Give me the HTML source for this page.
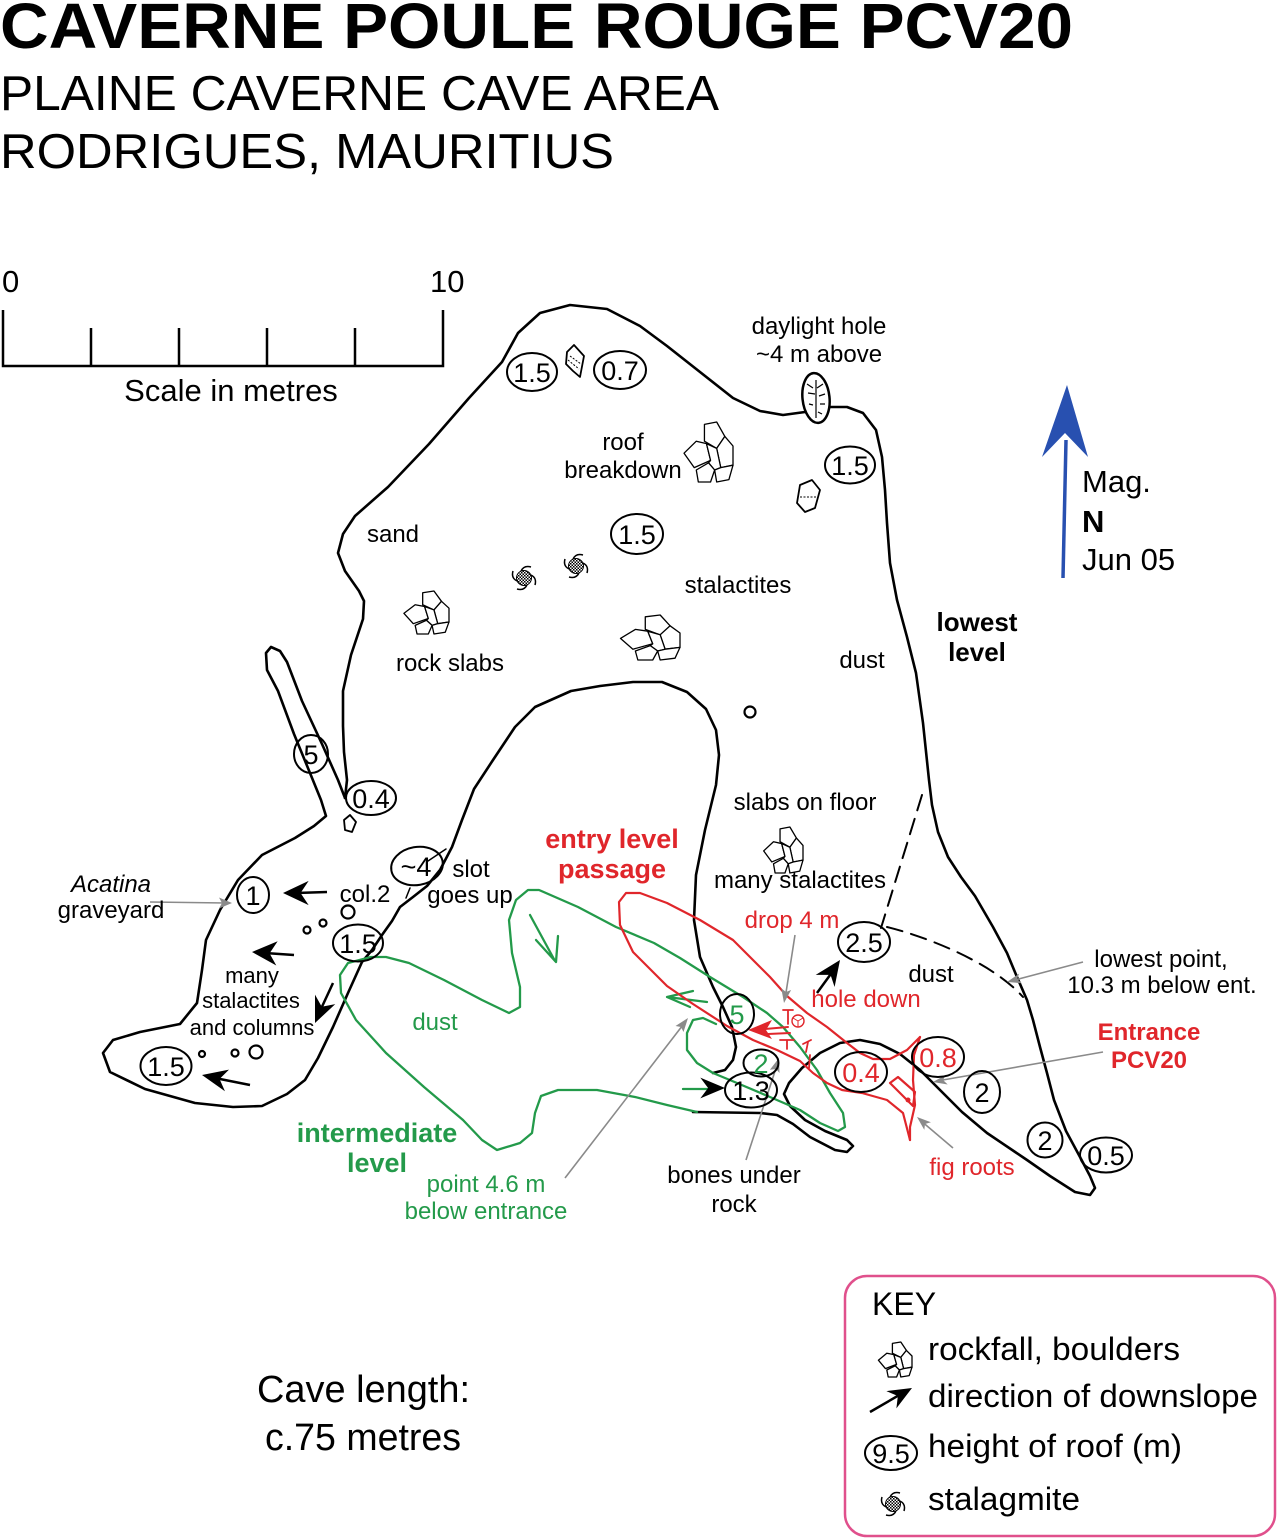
<!DOCTYPE html>
<html><head><meta charset="utf-8"><style>
html,body{margin:0;padding:0;background:#fff}
svg{display:block}
text{font-family:"Liberation Sans",Arial,sans-serif}
</style></head><body>
<svg width="1278" height="1539" viewBox="0 0 1278 1539" xmlns="http://www.w3.org/2000/svg">
<defs>
<pattern id="chk" width="3" height="3" patternUnits="userSpaceOnUse"><rect width="3" height="3" fill="#fff"/><rect width="1.5" height="1.5" fill="#000"/><rect x="1.5" y="1.5" width="1.5" height="1.5" fill="#000"/></pattern>
<g id="stal"><circle r="7.5" fill="url(#chk)" stroke="#000" stroke-width="1"/><path d="M7,-3 Q13,0 11,7 M3,7 Q0,13 -7,11 M-7,3 Q-13,0 -11,-7 M-3,-7 Q0,-13 7,-11" fill="none" stroke="#000" stroke-width="1.5"/></g>
<g id="rf" fill="#fff" stroke="#000" stroke-width="1.3" stroke-linejoin="round">
<polygon vector-effect="non-scaling-stroke" points="22,2 34,0 42,12 34,22 22,16"/>
<polygon vector-effect="non-scaling-stroke" points="34,22 42,12 50,20 50,36 38,38"/>
<polygon vector-effect="non-scaling-stroke" points="2,26 14,16 24,18 28,32 12,38"/>
<polygon vector-effect="non-scaling-stroke" points="24,18 34,22 38,38 32,40 26,34 28,32"/>
<polygon vector-effect="non-scaling-stroke" points="14,40 26,34 32,40 28,50 16,50"/>
<polygon vector-effect="non-scaling-stroke" points="32,40 38,38 50,36 46,48 34,50"/>
</g>
</defs>
<rect width="1278" height="1539" fill="#fff"/>

<!-- Titles -->
<text x="0" y="48" font-size="64" font-weight="bold" textLength="1073" lengthAdjust="spacingAndGlyphs">CAVERNE POULE ROUGE  PCV20</text>
<text x="0" y="110" font-size="49" textLength="719" lengthAdjust="spacingAndGlyphs">PLAINE CAVERNE CAVE AREA</text>
<text x="0" y="168" font-size="49" textLength="614" lengthAdjust="spacingAndGlyphs">RODRIGUES,  MAURITIUS</text>

<!-- Scale bar -->
<text x="2" y="292" font-size="31">0</text>
<text x="430" y="292" font-size="31">10</text>
<path d="M3,310 V366 H443 V310 M91,328 V366 M179,328 V366 M267,328 V366 M355,328 V366" fill="none" stroke="#000" stroke-width="2.5"/>
<text x="231" y="401" font-size="31" text-anchor="middle">Scale in metres</text>

<!-- North arrow -->
<path d="M1063,578 L1066,440" stroke="#2850b0" stroke-width="3.5" fill="none"/>
<path d="M1067,385 L1088,457 L1065,433 L1042,457 Z" fill="#2850b0"/>
<text x="1082" y="492" font-size="31">Mag.</text>
<text x="1082" y="532" font-size="31" font-weight="bold">N</text>
<text x="1082" y="570" font-size="31">Jun 05</text>

<!-- Cave outlines (black) -->
<g fill="none" stroke="#000" stroke-width="2.6" stroke-linejoin="round" stroke-linecap="round">
<path d="M345,798 L347,780 L344,752 L343,726 L343,691 L351,655 L363,619 L364,601 L359,591 L345,571 L338,553 L343,534 L355,516 L388,487 L429,444 L469,398 L502,362 L518,333 L540,313 L570,305 L607,309 L640,326 L667,346 L700,372 L733,398 L760,411 L783,415 L805,412 L830,407 L847,407 L863,413 L876,430 L882,457 L885,490 L887,523 L890,563 L897,600 L907,637 L916,673 L923,723 L929,780 L932,805 L938,832 L948,857 L961,877 L975,896 L993,927 L1007,953 L1017,977 L1027,1000 L1033,1020 L1040,1047 L1047,1073 L1054,1100 L1066,1131 L1080,1157 L1090,1176 L1095,1188 L1090,1195 L1075,1192 L1050,1176 L1027,1160 L987,1133 L962,1112 L940,1090 L920,1070 L900,1054 L880,1044 L860,1040 L840,1043 L820,1053 L802,1068 L789,1083 L784,1094 L790,1106 L805,1120 L825,1131 L847,1140 L853,1146 L847,1152 L835,1150 L810,1137 L793,1124 L777,1115 L760,1113 L693,1112"/>
<path d="M345,798 L338,780 L322,744 L302,701 L287,662 L280,651 L271,647 L266,653 L267,670 L278,691 L294,734 L310,773 L321,800 L326,816 L314,826 L295,838 L262,855 L238,880 L220,910 L206,940 L202,970 L197,1003 L180,1024 L140,1032 L113,1040 L103,1053 L110,1072 L145,1089 L195,1103 L233,1107 L262,1106 L287,1094 L305,1080 L318,1058 L333,1027 L348,993 L362,962 L372,950 L382,935 L392,921 L400,907 L413,897 L427,886 L440,870 L452,847 L462,820 L474,789 L493,760 L515,727 L535,707 L571,691 L600,686 L633,682 L662,682 L687,692 L706,709 L716,730 L719,755 L716,785 L705,830 L696,875 L694,920 L700,957 L713,987 L723,1007 L732,1027 L736,1047 L733,1060 L725,1070 L713,1073"/>
<path d="M922,795 L881,928" stroke-dasharray="16,9" stroke-width="2"/>
<path d="M887,927 C920,935 990,960 1023,997" stroke-dasharray="16,9" stroke-width="2"/>
<path d="M428,861 L446,849 M410,888 L406,898" stroke-width="1.5"/>
</g>

<!-- daylight hole -->
<ellipse cx="816" cy="398" rx="13.5" ry="25" fill="#fff" stroke="#000" stroke-width="2.5" transform="rotate(-6 816 398)"/>
<path d="M807,384 L813,388 M808,393 L815,394 M823,384 L817,388 M825,394 L819,396 M825,404 L820,404 M822,414 L818,412 M809,404 L813,405 M816,380 L816,418" stroke="#000" stroke-width="1.2" fill="none"/>

<!-- small hatched rocks -->
<g fill="#fff" stroke="#000" stroke-width="1.8" stroke-linejoin="round">
<path d="M567,352 L574,345 L584,356 L580,377 L573,371 L566,364 Z"/>
<path d="M800,485 L812,480 L820,490 L815,508 L805,512 L797,503 Z"/>
<path d="M344,820 L350,815 L356,822 L352,832 L345,830 Z"/>
</g>
<path d="M568,360 L579,369 M570,356 L581,364 M800,497 L817,497" stroke="#000" stroke-width="1" stroke-dasharray="2,1.5" fill="none"/>

<!-- rockfall clusters -->
<use href="#rf" transform="translate(682,422) scale(1.02,1.2)"/>
<use href="#rf" transform="translate(402,591) scale(0.94,0.86)"/>
<use href="#rf" transform="translate(618,615) scale(1.24,0.9)"/>
<use href="#rf" transform="translate(762,827) scale(0.82,0.92)"/>
<use href="#rf" transform="translate(877,1342) scale(0.7,0.7)"/>

<!-- stalagmites -->
<use href="#stal" transform="translate(524,578)"/>
<use href="#stal" transform="translate(576,566)"/>
<use href="#stal" transform="translate(893,1504)"/>

<!-- column circles -->
<g fill="none" stroke="#000" stroke-width="2.2">
<circle cx="750" cy="712" r="5.5"/>
<circle cx="348" cy="912" r="6.5"/>
<circle cx="307" cy="930" r="3.5"/>
<circle cx="323" cy="923" r="3.5"/>
<circle cx="202" cy="1054" r="3"/>
<circle cx="235" cy="1053" r="3.5"/>
<circle cx="256" cy="1052" r="6.5"/>
</g>

<!-- green intermediate level -->
<g fill="none" stroke="#239a4a" stroke-width="2.3" stroke-linejoin="round" stroke-linecap="round">
<path d="M697,1112 L667,1105 L635,1097 L597,1090 L558,1090 L541,1096 L535,1113 L532,1133 L520,1143 L497,1150 L482,1140 L463,1120 L424,1087 L386,1053 L356,1020 L341,993 L340,975 L348,963 L371,957 L386,957 L409,963 L444,980 L482,1000 L509,1013 L520,1007 L520,987 L512,953 L509,920 L516,900 L528,890 L539,890 L578,907 L616,927 L654,943 L680,958 L710,977 L743,997 L767,1013 L783,1027 L800,1047 L817,1070 L830,1093 L843,1113 L845,1127 L838,1131 L820,1123 L800,1110 L770,1097 L737,1083 L713,1073 L697,1063 L687,1050 L687,1033 L693,1020 L703,1018 L716,1024"/>
<path d="M530,915 L555,961 M536,940 L556,962 L558,936"/>
<path d="M707,1002 L667,997 M693,991 L667,997 L690,1007"/>
<path d="M683,1089 L712,1089"/>
</g>

<!-- red entry level -->
<g fill="none" stroke="#e0262b" stroke-width="2.2" stroke-linejoin="round" stroke-linecap="round">
<path d="M920,1037 L907,1050 L890,1059 L873,1059 L860,1053 L847,1043 L827,1027 L807,1013 L787,996 L770,977 L753,960 L733,940 L700,920 L667,903 L640,893 L626,893 L619,902 L620,925 L633,952 L667,986 L693,1004 L727,1026 L753,1040 L777,1050 L800,1061 L813,1073 L827,1083 L842,1090 L862,1093 L887,1100 L903,1113 L910,1140"/>
<path d="M920,1037 L914,1055 L913,1080 L915,1105 L910,1127 L910,1140"/>
<path d="M890,1083 L898,1077 L915,1092 L913,1106 Z"/>
<path d="M783,1010 L793,1010 M788,1010 L788,1024 M780,1040 L794,1040 M787,1040 L787,1049 M803,1044 L811,1040 M808,1042 L806,1052 M810,1055 L809,1068" stroke-width="1.8"/>
<path d="M788,1027 L765,1029 M790,1033 L768,1034" stroke-width="2"/>
<circle cx="798" cy="1021" r="6" stroke-width="1.4"/>
<path d="M798,1021 L798,1026 M798,1021 L793,1018 M798,1021 L803,1018" stroke-width="1"/>
</g>
<path d="M748,1030 L772,1020 L766,1030 L772,1039 Z" fill="#e0262b"/>
<circle cx="908" cy="1100" r="2.5" fill="#e0262b"/>

<!-- black downslope arrows -->
<g stroke="#000" stroke-width="2.5" fill="none">
<path d="M296,893 L327,892 M265,953 L294,955 M320,1011 L333,983 M215,1078 L250,1085 M833,971 L817,993 M901,1394 L870,1412"/>
</g>
<g fill="#000">
<path transform="translate(283,893) scale(1.35) translate(-283,-893)" d="M283,893 L302,884 L296,893 L302,902 Z"/>
<path transform="translate(252,952) scale(1.35) translate(-252,-952)" d="M252,952 L271,944 L265,953 L270,962 Z"/>
<path transform="translate(315,1023) scale(1.35) translate(-315,-1023)" d="M315,1023 L330,1009 L320,1011 L315,1002 Z"/>
<path transform="translate(202,1075) scale(1.35) translate(-202,-1075)" d="M202,1075 L222,1071 L215,1078 L219,1087 Z"/>
<path transform="translate(840,960) scale(1.35) translate(-840,-960)" d="M840,960 L836,980 L833,971 L822,971 Z"/>
<path transform="translate(725,1088) scale(1.3) translate(-725,-1088)" d="M725,1088 L706,1080 L712,1088 L706,1096 Z"/>
<path transform="translate(912,1388) scale(1.25) translate(-912,-1388)" d="M912,1388 L899.5,1404.3 L900.7,1394.4 L891.5,1390.5 Z"/>
</g>

<!-- gray leader lines -->
<g stroke="#8a8a8a" stroke-width="1.6" fill="none">
<path d="M150,902 L226,903"/>
<path d="M565,1178 L686,1021"/>
<path d="M746,1160 L778,1062"/>
<path d="M795,935 L785,999"/>
<path d="M1083,962 L1011,981"/>
<path d="M1103,1052 L937,1081"/>
<path d="M953,1148 L920,1120"/>
</g>
<g fill="#8a8a8a">
<path d="M232,903 L219,897.5 L222,903 L219,908.5 Z"/>
<path d="M688,1018 L683.5,1032 L681,1027 L675.5,1026 Z"/>
<path d="M779,1058 L779.5,1073 L776,1069 L769.9,1069.8 Z"/>
<path d="M784,1003 L791.1,990 L786,992 L781.3,988.4 Z"/>
<path d="M1007,982 L1021.8,983.2 L1017,979 L1019.2,973.6 Z"/>
<path d="M933,1082 L947.7,1084.5 L943,1080 L945.9,1074.7 Z"/>
<path d="M917,1117 L930.9,1122.3 L925,1124 L924.3,1129.9 Z"/>
</g>

<!-- roof height ellipses -->
<g fill="none" stroke="#000" stroke-width="2">
<ellipse cx="532" cy="372" rx="25" ry="19"/>
<ellipse cx="620" cy="370" rx="26" ry="19"/>
<ellipse cx="850" cy="465" rx="25" ry="18.5"/>
<ellipse cx="637" cy="534" rx="26" ry="20"/>
<ellipse cx="311" cy="754" rx="17" ry="19"/>
<ellipse cx="371" cy="798" rx="25" ry="17"/>
<ellipse cx="253" cy="895" rx="16" ry="18"/>
<ellipse cx="417" cy="866" rx="26" ry="19" transform="rotate(-10 417 866)"/>
<ellipse cx="358" cy="943" rx="25" ry="18.5"/>
<ellipse cx="166" cy="1066" rx="25.5" ry="19"/>
<ellipse cx="864" cy="942" rx="26" ry="20"/>
<ellipse cx="737" cy="1014" rx="17" ry="20"/>
<ellipse cx="761" cy="1063" rx="17.5" ry="13.5"/>
<ellipse cx="751" cy="1090" rx="26" ry="17.5"/>
<ellipse cx="861" cy="1072" rx="26" ry="20"/>
<ellipse cx="938" cy="1057" rx="26" ry="20"/>
<ellipse cx="982" cy="1092" rx="18" ry="21"/>
<ellipse cx="1045" cy="1140" rx="17.5" ry="17.5"/>
<ellipse cx="1106" cy="1155" rx="26" ry="17.5"/>
<ellipse cx="891" cy="1453" rx="26" ry="17"/>
</g>
<g font-size="27" text-anchor="middle" fill="#000">
<text x="532" y="382">1.5</text>
<text x="620" y="380">0.7</text>
<text x="850" y="475">1.5</text>
<text x="637" y="544">1.5</text>
<text x="311" y="764">5</text>
<text x="371" y="808">0.4</text>
<text x="253" y="905">1</text>
<text x="416" y="876">~4</text>
<text x="358" y="953">1.5</text>
<text x="166" y="1076">1.5</text>
<text x="864" y="952">2.5</text>
<text x="737" y="1024" fill="#239a4a">5</text>
<text x="761" y="1073" fill="#239a4a">2</text>
<text x="751" y="1100">1.3</text>
<text x="861" y="1082" fill="#e0262b">0.4</text>
<text x="938" y="1067" fill="#e0262b">0.8</text>
<text x="982" y="1102">2</text>
<text x="1045" y="1150">2</text>
<text x="1106" y="1165">0.5</text>
<text x="891" y="1463">9.5</text>
</g>

<!-- labels -->
<g font-size="24" text-anchor="middle" fill="#000">
<text x="819" y="334">daylight hole</text>
<text x="819" y="362">~4 m above</text>
<text x="623" y="450">roof</text>
<text x="623" y="478">breakdown</text>
<text x="393" y="542">sand</text>
<text x="738" y="593">stalactites</text>
<text x="450" y="671">rock slabs</text>
<text x="862" y="668">dust</text>
<text x="805" y="810">slabs on floor</text>
<text x="800" y="888">many stalactites</text>
<text x="931" y="982">dust</text>
<text x="1161" y="967">lowest point,</text>
<text x="1162" y="993">10.3 m below ent.</text>
<text x="734" y="1183">bones under</text>
<text x="734" y="1212">rock</text>
<text x="111" y="892" font-style="italic">Acatina</text>
<text x="111" y="918">graveyard</text>
<text x="365" y="902">col.2</text>
<text x="471" y="877">slot</text>
<text x="470" y="903">goes up</text>
<text x="252" y="983" font-size="22">many</text>
<text x="251" y="1008" font-size="22">stalactites</text>
<text x="252" y="1035" font-size="22">and columns</text>
</g>
<g font-size="24" text-anchor="middle" fill="#239a4a">
<text x="435" y="1030">dust</text>
<text x="486" y="1192">point 4.6 m</text>
<text x="486" y="1219">below entrance</text>
<text x="377" y="1142" font-size="27" font-weight="bold">intermediate</text>
<text x="377" y="1172" font-size="27" font-weight="bold">level</text>
</g>
<g font-size="24" text-anchor="middle" fill="#e0262b">
<text x="792" y="928">drop 4 m</text>
<text x="866" y="1007">hole down</text>
<text x="972" y="1175">fig roots</text>
<text x="612" y="848" font-size="27" font-weight="bold">entry level</text>
<text x="612" y="878" font-size="27" font-weight="bold">passage</text>
<text x="1149" y="1040" font-weight="bold">Entrance</text>
<text x="1149" y="1068" font-weight="bold">PCV20</text>
</g>
<g font-size="26" font-weight="bold" text-anchor="middle" fill="#000">
<text x="977" y="631">lowest</text>
<text x="977" y="661">level</text>
</g>

<!-- cave length -->
<text x="257" y="1402" font-size="38" textLength="213" lengthAdjust="spacingAndGlyphs">Cave length:</text>
<text x="265" y="1450" font-size="38" textLength="196" lengthAdjust="spacingAndGlyphs">c.75 metres</text>

<!-- key -->
<rect x="845" y="1276" width="430" height="260" rx="22" ry="22" fill="none" stroke="#e0508c" stroke-width="2.5"/>
<text x="872" y="1315" font-size="32">KEY</text>
<text x="928" y="1360" font-size="32" textLength="252" lengthAdjust="spacingAndGlyphs">rockfall, boulders</text>
<text x="928" y="1407" font-size="32" textLength="330" lengthAdjust="spacingAndGlyphs">direction of downslope</text>
<text x="928" y="1457" font-size="32" textLength="254" lengthAdjust="spacingAndGlyphs">height of roof (m)</text>
<text x="928" y="1510" font-size="32" textLength="152" lengthAdjust="spacingAndGlyphs">stalagmite</text>
</svg>
</body></html>
